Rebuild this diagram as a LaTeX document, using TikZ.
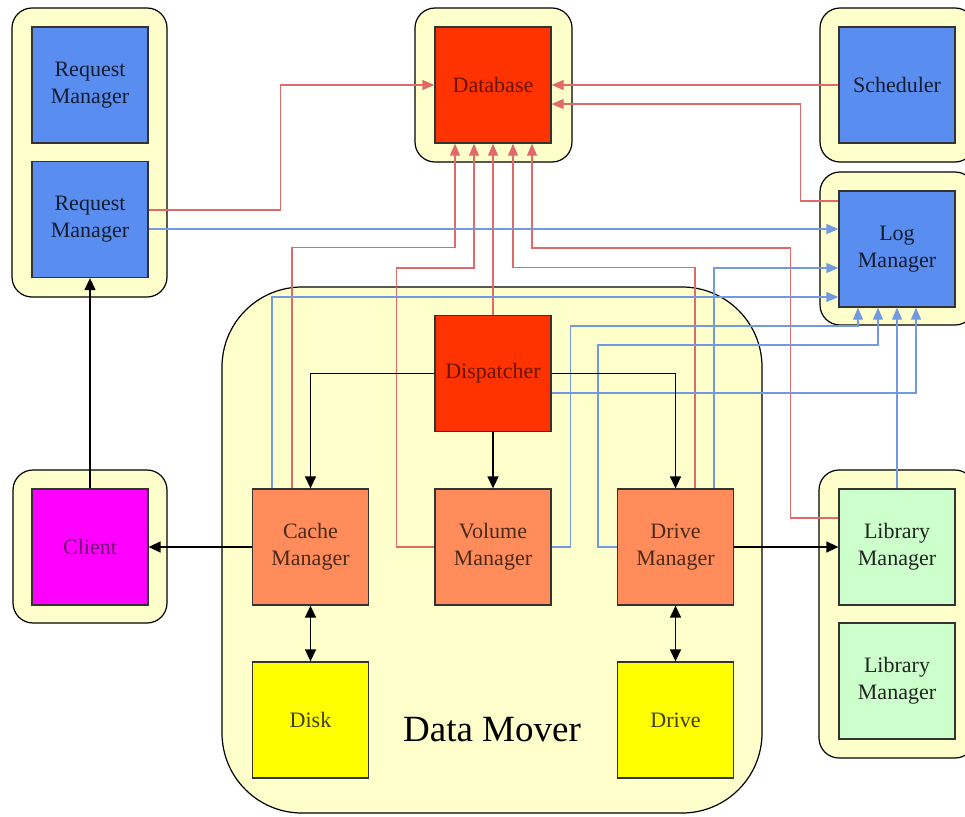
\documentclass[tikz,border=0pt]{standalone}
\usepackage{fontspec}
\setmainfont{Liberation Serif}
\newfontfamily\tnr{Liberation Serif}
\usetikzlibrary{arrows.meta}
\definecolor{papel}{HTML}{FFFFCC}
\definecolor{azul}{HTML}{5A8DF0}
\definecolor{verm}{HTML}{FF3300}
\definecolor{lara}{HTML}{FF8C5A}
\definecolor{amar}{HTML}{FFFF00}
\definecolor{mag}{HTML}{FF00FF}
\definecolor{verde}{HTML}{CCFFCC}
\definecolor{linv}{HTML}{E06A6A}
\definecolor{lina}{HTML}{7399E2}
\tikzset{
  grp/.style = {draw=black, line width=1.2pt, fill=papel, rounded corners=20pt},
  bx/.style = {draw=black!80, line width=1.3pt, minimum size=116pt,
    inner sep=0pt, align=center, font=\tnr\fontsize{22}{27}\selectfont},
  mgr/.style = {bx, fill=azul, text=azul!20!black},
  core/.style = {bx, fill=verm, text=verm!40!black},
  work/.style = {bx, fill=lara, text=lara!30!black},
  store/.style = {bx, fill=amar, text=amar!25!black},
  cli/.style = {bx, fill=mag, text=mag!45!black},
  lib/.style = {bx, fill=verde, text=verde!15!black},
  lv/.style = {draw=linv, line width=1.3pt,
    -{Triangle[length=12pt, width=10pt]}},
  la/.style = {draw=lina, line width=1.3pt,
    -{Triangle[length=12pt, width=10pt]}},
  ar/.style = {draw=black, line width=1.4pt,
    -{Triangle[length=12pt, width=11pt]}},
  ar2/.style = {draw=black, line width=1.4pt,
    {Triangle[length=12pt, width=11pt]}-{Triangle[length=12pt, width=11pt]}}
}

\begin{document}
\begin{tikzpicture}[x=1pt, y=-1pt]
  \clip (0,0) rectangle (965,816);
  \fill [white] (0,0) rectangle (965,816);

  % groups
  \draw [grp] (12,8) rectangle (167,297);
  \draw [grp] (13,470) rectangle (167,623);
  \draw [grp] (415,8) rectangle (572,162);
  \draw [grp] (820,8) rectangle (975,162);
  \draw [grp] (820,172) rectangle (975,325);
  \draw [grp] (819,470) rectangle (975,758);
  \draw [grp, rounded corners=80pt] (222,287) rectangle (762,813);
  \node [font=\tnr\fontsize{37}{40}\selectfont] (dmv) at (492,730) {Data Mover};

  % outer boxes
  \node [mgr] (rm1) at (90,85) {Request\\Manager};
  \node [mgr] (rm2) at (90,219.5) {Request\\Manager};
  \node [cli] (cl) at (90,547) {Client};
  \node [core] (db) at (493,85) {Database};
  \node [mgr] (sch) at (897,85) {Scheduler};
  \node [mgr] (lm) at (897,249) {Log\\Manager};
  \node [lib] (lib1) at (897,547) {Library\\Manager};
  \node [lib] (lib2) at (897,681) {Library\\Manager};

  % data mover
  \node [core] (dsp) at (493,373.5) {Dispatcher};
  \node [work] (cm) at (310.5,547) {Cache\\Manager};
  \node [work] (vm) at (493,547) {Volume\\Manager};
  \node [work] (dm) at (675.5,547) {Drive\\Manager};
  \node [store] (dk) at (310.5,720) {Disk};
  \node [store] (dr) at (675.5,720) {Drive};

  % to the database
  \draw [lv] ([yshift=9.5pt]rm2.east) -- ++(132,0) |- (db.west);
  \draw [lv] (sch.west) -- (db.east);
  \draw [lv] ([yshift=48pt]lm.west) -- ++(-38,0) |- ([yshift=-19pt]db.east);
  \draw [lv] ([xshift=-18.5pt]cm.north) -- ++(0,-241) -| ([xshift=-38pt]db.south);
  \draw [lv] (vm.west) -- ++(-38,0) -- ++(0,-279) -| ([xshift=-19pt]db.south);
  \draw [lv] (dsp.north) -- (db.south);
  \draw [lv] ([xshift=19.5pt]dm.north) -- ++(0,-221) -| ([xshift=20pt]db.south);
  \draw [lv] ([yshift=29pt]lib1.west) -- ++(-48,0) -- ++(0,-270) -| ([xshift=39pt]db.south);

  % to the log manager
  \draw [la] ([yshift=-9.5pt]rm2.east) -- ([yshift=20pt]lm.west);
  \draw [la] ([xshift=-38.5pt]cm.north) |- ([yshift=-48pt]lm.west);
  \draw [la] ([xshift=38.5pt]dm.north) |- ([yshift=-19pt]lm.west);
  \draw [la] (vm.east) -- ++(19,0) -- ++(0,-221) -| ([xshift=-39pt]lm.south);
  \draw [la] (dm.west) -- ++(-19,0) -- ++(0,-202) -| ([xshift=-19pt]lm.south);
  \draw [la] (lib1.north) -- (lm.south);
  \draw [la] ([yshift=-19.5pt]dsp.east) -| ([xshift=19pt]lm.south);

  % control
  \draw [ar] (dsp.west) -| (cm.north);
  \draw [ar] (dsp.south) -- (vm.north);
  \draw [ar] (dsp.east) -| (dm.north);
  \draw [ar] (cm.west) -- (cl.east);
  \draw [ar] (cl.north) -- (rm2.south);
  \draw [ar] (dm.east) -- (lib1.west);
  \draw [ar2] (cm.south) -- (dk.north);
  \draw [ar2] (dm.south) -- (dr.north);
\end{tikzpicture}
\end{document}
